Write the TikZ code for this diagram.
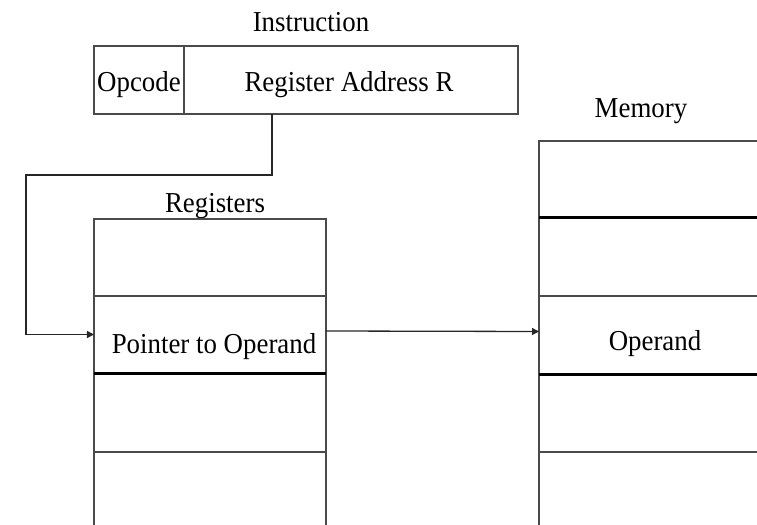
\documentclass[tikz,border=0pt]{standalone}
\usepackage{fontspec}
\setmainfont{Liberation Serif}[FakeStretch=0.93]
\usetikzlibrary{arrows.meta}
\definecolor{linegray}{HTML}{4A4A4A}
\tikzset{
  rule/.style={draw=linegray, line width=1.3bp},
  heavy/.style={draw=black, line width=3bp},
  wire/.style={draw=black!85, line width=1.3bp, -{Triangle[length=7bp,width=7bp]}},
  cell/.style={rectangle, inner sep=0pt, outer sep=0pt},
  regcell/.style={cell, minimum width=232bp},
  memcell/.style={cell, minimum width=218bp},
  txt/.style={font=\fontsize{29}{32}\selectfont, inner sep=0pt, anchor=base}
}
\begin{document}
\begin{tikzpicture}[x=1bp,y=-1bp]
\useasboundingbox (0,0) rectangle (757,525);

% instruction word
\node[cell, rule, minimum width=90bp, minimum height=68bp] (opc) at (139,80) {};
\node[cell, rule, minimum width=334bp, minimum height=68bp] (addr) at (351,80) {};
\node[txt] (instrlbl) at (311,32) {Instruction};
\node[txt] (opctxt) at (139,92) {Opcode};
\node[txt] (addrtxt) at (349,92) {Register Address R};

% register file
\node[regcell, minimum height=77bp] (r1) at (210,257.5) {};
\node[regcell, minimum height=77bp] (r2) at (210,334.5) {};
\node[regcell, minimum height=79bp] (r3) at (210,412.5) {};
\node[regcell, minimum height=73bp] (r4) at (210,488.5) {};
\node[txt] (reglbl) at (215,213) {Registers};
\node[txt] (ptrtxt) at (214,353) {Pointer to Operand};
\draw[rule] (r4.south west) -- (r1.north west) -- (r1.north east) -- (r4.south east);
\draw[rule] (r2.north west) -- (r2.north east);
\draw[rule] (r4.north west) -- (r4.north east);
\draw[heavy] (r3.north west) -- (r3.north east);

% memory
\node[memcell, minimum height=77bp] (m0) at (648,179.5) {};
\node[memcell, minimum height=78bp] (m1) at (648,257) {};
\node[memcell, minimum height=78bp] (m2) at (648,335) {};
\node[memcell, minimum height=78bp] (m3) at (648,413) {};
\node[memcell, minimum height=73bp] (m4) at (648,488.5) {};
\node[txt] (memlbl) at (641,118) {Memory};
\node[txt] (opdtxt) at (655,350) {Operand};
\draw[rule] (m4.south west) -- (m0.north west) -- (m0.north east);
\draw[heavy] (m1.north west) -- (m1.north east);
\draw[rule] (m2.north west) -- (m2.north east);
\draw[heavy] (m3.north west) -- (m3.north east);
\draw[rule] (m4.north west) -- (m4.north east);

% address path: instruction -> register -> memory
\coordinate (tap) at (272,114);
\draw[wire] (tap) -- (272,175) -- (26,175) |- (r2.west);
\draw[wire] ([yshift=3.5bp]r2.east) -- ([yshift=3.5bp]m2.west);
\end{tikzpicture}
\end{document}
